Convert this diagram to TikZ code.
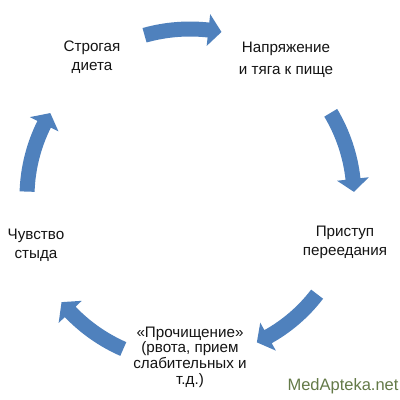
\documentclass[tikz,border=0pt]{standalone}
\usepackage{fontspec}
\setmainfont{Liberation Sans}
\definecolor{arrowblue}{RGB}{79,129,189}
\definecolor{labelink}{RGB}{20,20,20}
\definecolor{markgreen}{RGB}{100,122,72}
\newcommand\cycarrow[3]{%
  \pgfmathsetmacro\hb{#3+4.5}%
  \pgfmathsetmacro\ro{#1+7.5}%
  \pgfmathsetmacro\ri{#1-7.5}%
  \pgfmathsetmacro\hro{#1+16}%
  \pgfmathsetmacro\hri{#1-16}%
  \fill[arrowblue] (#2:\ro pt) arc[start angle=#2, end angle=\hb, radius=\ro pt]
    -- (\hb:\hro pt) -- (#3:#1 pt) -- (\hb:\hri pt) -- (\hb:\ri pt)
    arc[start angle=\hb, end angle=#2, radius=\ri pt] -- cycle;}
\tikzset{
  label/.style={align=center, text=labelink, inner sep=0pt,
    font=\fontsize{15.2}{19}\selectfont},
  tight/.style={font=\fontsize{15.2}{15.6}\selectfont},
}
\begin{document}
\begin{tikzpicture}[x=1pt,y=1pt]
\fill[white] (0,0) rectangle (400,400);
\useasboundingbox (0,0) rectangle (400,400);
\begin{scope}[shift={(190,203)}]
  \cycarrow{168}{105.7}{79.2}
  \cycarrow{164}{30.9}{1.8}
  \cycarrow{160}{-37.4}{-65.3}
  \cycarrow{166}{-113.7}{-140.7}
  \cycarrow{163}{178.1}{149}
\end{scope}
\node[label] (diet) at (92,343) {Строгая\\диета};
\node[label] (tension) at (286,340) {Напряжение\\[3pt]и тяга к пище};
\node[label] (binge) at (345,158) {Приступ\\переедания};
\node[label] (shame) at (36,155) {Чувство\\стыда};
\node[label, tight] (purge) at (190,43) {«Прочищение»\\(рвота, прием\\слабительных и\\т.д.)};
\node[text=markgreen, font=\fontsize{16.5}{18}\selectfont, inner sep=0pt] (mark) at (343,13.5) {MedApteka.net};
\end{tikzpicture}
\end{document}
